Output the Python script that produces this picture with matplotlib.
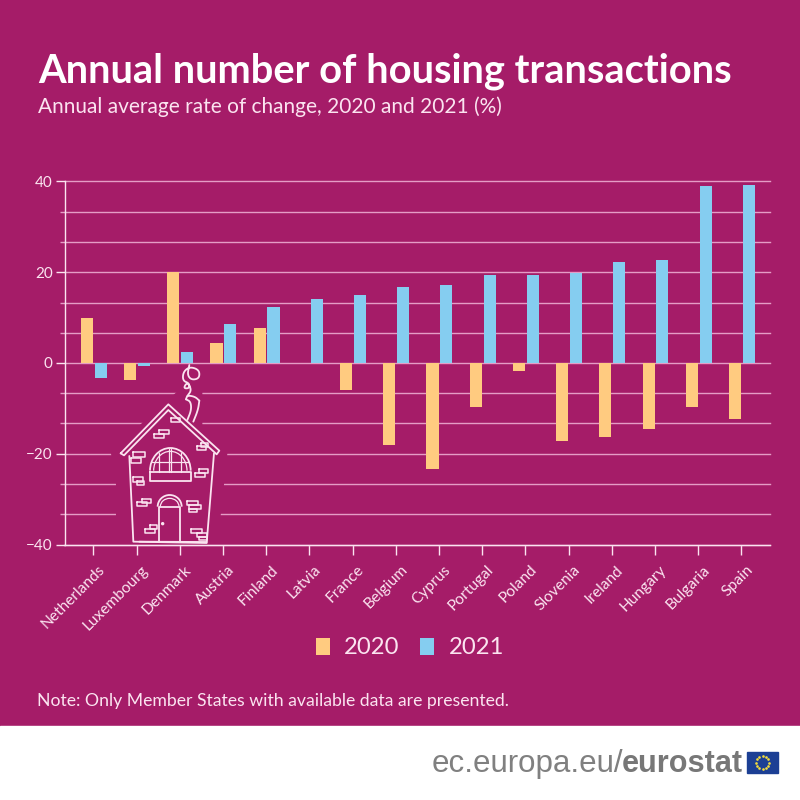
import numpy as np
import matplotlib
matplotlib.use('Agg')
import matplotlib.pyplot as plt
from matplotlib.patches import Polygon, Rectangle, Ellipse, Arc
from matplotlib.transforms import ScaledTranslation

countries = ['Netherlands', 'Luxembourg', 'Denmark', 'Austria', 'Finland', 'Latvia', 'France', 'Belgium',
             'Cyprus', 'Portugal', 'Poland', 'Slovenia', 'Ireland', 'Hungary', 'Bulgaria', 'Spain']
values_2020 = [10, -3.8, 20, 4.5, 7.7, np.nan, -6, -18, -23.3, -9.7, -1.7, -17.3, -16.3, -14.6, -9.6, -12.3]
values_2021 = [-3.2, -0.7, 2.4, 8.7, 12.4, 14, 15, 16.7, 17.2, 19.3, 19.5, 19.8, 22.2, 22.8, 39, 39.2]
major_ticks = [-40, -20, 0, 20, 40]
minor_ticks = [-33.33, -26.67, -13.33, -6.67, 6.67, 13.33, 26.67, 33.33]

BG = '#A51C68'
ORANGE = '#FFCB80'
BLUE = '#85CDF0'
GRID = '#E59CC6'
PALE = '#FBE4F0'

plt.rcParams['font.family'] = ['Lato', 'DejaVu Sans']

fig = plt.figure(figsize=(8, 8), dpi=100, facecolor=BG)
ax = fig.add_axes([64.5 / 800, 1 - 544.5 / 800, (770 - 64.5) / 800, 363 / 800], facecolor=BG)

x = np.arange(len(countries))
ax.bar(x - 0.15, values_2020, width=0.28, color=ORANGE, zorder=3, label='2020')
ax.bar(x + 0.17, values_2021, width=0.28, color=BLUE, zorder=3, label='2021')

ax.set_xlim(-0.667, 15.66)
ax.set_ylim(-40, 40)
ax.set_yticks(major_ticks)
ax.set_yticks(minor_ticks, minor=True)
ax.set_xticks(x)
ax.set_xticklabels(countries, rotation=45, ha='right', rotation_mode='anchor', fontsize=11.2, color=PALE)
ax.tick_params(axis='y', which='major', length=6.5, width=1, color=PALE, labelcolor=PALE, labelsize=11, pad=2)
ax.tick_params(axis='y', which='minor', length=3.5, width=1, color=GRID)
ax.tick_params(axis='x', length=7, width=1, color=PALE, pad=5)
# after tick_params, which resets the label transforms
for label in ax.get_xticklabels():
    label.set_transform(label.get_transform() + ScaledTranslation(4.5 / 100, -1.5 / 100, fig.dpi_scale_trans))
ax.grid(axis='y', which='both', color=GRID, lw=1, zorder=1, clip_on=False)
for side in ['top', 'right']:
    ax.spines[side].set_visible(False)
for side in ['left', 'bottom']:
    ax.spines[side].set_color(PALE)
    ax.spines[side].set_linewidth(1)

leg = fig.legend(loc='center', bbox_to_anchor=(410 / 800, 1 - 648 / 800), ncol=2, frameon=False,
                 fontsize=17.2, labelcolor=PALE, handlelength=0.6, handleheight=0.7,
                 handletextpad=0.6, columnspacing=0.85)

# everything else is placed in pixels of the 800x800 picture
over = fig.add_axes([0, 0, 1, 1], facecolor='none')
over.set_xlim(0, 800)
over.set_ylim(800, 0)
over.axis('off')

over.text(38, 83, 'Annual number of housing transactions', fontsize=28.7, fontweight='bold', color='white')
over.text(38, 113, 'Annual average rate of change, 2020 and 2021 (%)', fontsize=15.05, color=PALE)
over.text(37, 706, 'Note: Only Member States with available data are presented.', fontsize=12.7, color=PALE)

# footer
over.add_patch(Rectangle((0, 726), 800, 74, color='white', zorder=2))
over.text(432, 772, 'ec.europa.eu/', fontsize=22.5, color='#808080', family='Liberation Sans', zorder=3)
over.text(622, 772, 'eurostat', fontsize=22.1, color='#777777', family='Liberation Sans',
          fontweight='bold', zorder=3)
over.add_patch(Rectangle((747, 752), 31, 21, color='#1C3F94', zorder=3))
for a in np.arange(12) * np.pi / 6:
    over.plot(762.5 + 6.5 * np.cos(a), 762.5 + 6.5 * np.sin(a), 'o', ms=0.9, color='#F4DC3C', zorder=4)


def hx(v):
    return 100 + v / 3


def hy(v):
    return 360 + v / 3


def sketch(points, lw=1.3):
    xs = [hx(p[0]) for p in points]
    ys = [hy(p[1]) for p in points]
    over.plot(xs, ys, color=PALE, lw=lw, solid_capstyle='round', solid_joinstyle='round', zorder=6)


def rounded(points, passes=3):
    # corner cutting so hand drawn curves do not look like polygons
    for _ in range(passes):
        new = [points[0]]
        for a, b in zip(points[:-1], points[1:]):
            new.append((0.75 * a[0] + 0.25 * b[0], 0.75 * a[1] + 0.25 * b[1]))
            new.append((0.25 * a[0] + 0.75 * b[0], 0.25 * a[1] + 0.75 * b[1]))
        new.append(points[-1])
        points = new
    return points


blob = [(240, 90), (305, 90), (305, 195), (380, 280), (370, 372), (360, 465), (355, 530), (50, 530),
        (50, 372), (35, 280), (130, 188), (240, 90)]
over.add_patch(Polygon([(hx(a), hy(b)) for a, b in blob], color=BG, zorder=5))

# roof and walls
sketch([(62, 280), (205, 133), (358, 272), (350, 283), (205, 150), (72, 286), (62, 280)])
sketch([(88, 288), (100, 545), (320, 549), (342, 280)])
sketch([(118, 545), (320, 546)])
# chimney and smoke
sketch(rounded([(262, 180), (274, 150), (272, 125), (258, 118)]))
sketch(rounded([(258, 118), (262, 106), (285, 110), (298, 122)]))
sketch(rounded([(298, 122), (294, 150), (280, 185)]))
sketch(rounded([(262, 108), (275, 90), (262, 66), (250, 85), (268, 85), (268, 70), (248, 62), (250, 35),
                (270, 20), (298, 30), (298, 55), (275, 60), (262, 45), (268, 15)]))
# window
over.add_patch(Arc((hx(211), hy(332)), 122 / 3, 136 / 3, theta1=180, theta2=360, color=PALE, lw=1.3, zorder=6))
over.add_patch(Arc((hx(211), hy(332)), 100 / 3, 116 / 3, theta1=180, theta2=360, color=PALE, lw=0.9, zorder=6))
sketch([(150, 335), (272, 335), (272, 362), (150, 362), (150, 335)])
for mullion in [178, 208, 214, 244]:
    sketch([(mullion, 268 if 190 < mullion < 230 else 280), (mullion, 335)], lw=0.9)
sketch([(155, 305), (268, 305)], lw=0.9)
# door
sketch([(178, 545), (178, 440), (240, 440), (240, 545)])
over.add_patch(Arc((hx(209), hy(440)), 72 / 3, 70 / 3, theta1=180, theta2=360, color=PALE, lw=1.3, zorder=6))
over.add_patch(Arc((hx(209), hy(440)), 56 / 3, 50 / 3, theta1=180, theta2=360, color=PALE, lw=0.9, zorder=6))
over.add_patch(Ellipse((hx(188), hy(491)), 2, 2, color=PALE, zorder=6))
# bricks, each one a small outlined rectangle
bricks = [(212, 175, 28, 12), (178, 210, 28, 12), (163, 222, 28, 12), (290, 258, 28, 12), (304, 250, 20, 12),
          (100, 277, 36, 14), (92, 295, 32, 14), (286, 338, 30, 12), (296, 326, 28, 12), (98, 352, 32, 14),
          (112, 362, 20, 12), (112, 426, 30, 12), (126, 416, 28, 12), (262, 422, 32, 12), (266, 434, 36, 12),
          (266, 446, 24, 10), (136, 506, 30, 12), (150, 496, 22, 12), (272, 506, 34, 12), (292, 518, 28, 12),
          (296, 530, 24, 10)]
for bx, by, bw, bh in bricks:
    sketch([(bx, by), (bx + bw, by), (bx + bw, by + bh), (bx, by + bh), (bx, by)], lw=1.1)

fig.savefig('out.png', dpi=100, facecolor=BG)
